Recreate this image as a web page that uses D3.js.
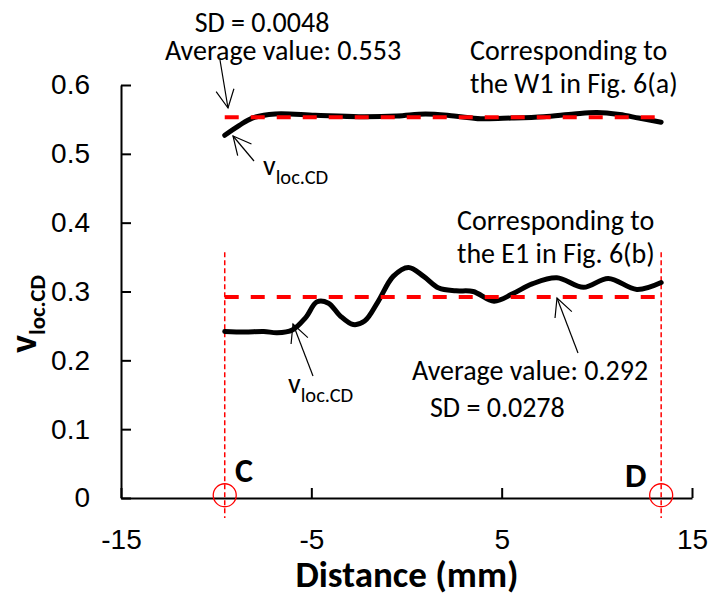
<!DOCTYPE html>
<html lang="en">
<head>
  <meta charset="UTF-8">
  <title>v_loc.CD along C-D</title>
  <script src="https://d3js.org/d3.v7.min.js"></script>
  <style>
    body { margin: 0; background: #fff; }
    svg { display: block; font-family: Carlito, Calibri, Lato, sans-serif; }
    .axis path, .axis line { stroke: #000; stroke-width: 2; }
    .axis text { font-size: 28px; fill: #000; }
  </style>
</head>
<body>
  <svg width="709" height="599"></svg>

  <script>
    // Upper curve (W1, Fig. 6(a)) : [distance mm, v_loc.CD]
    const upperCurve = [
      [-9.55, 0.527], [-8.8, 0.541], [-8.1, 0.552], [-6.9, 0.558], [-4.8, 0.556],
      [-2.5, 0.554], [-0.5, 0.555], [1.0, 0.558], [2.5, 0.555], [3.9, 0.551],
      [5.5, 0.552], [7.2, 0.554], [8.8, 0.558], [10.0, 0.560], [11.2, 0.557],
      [12.2, 0.552], [13.38, 0.546]
    ];
    // Lower curve (E1, Fig. 6(b))
    const lowerCurve = [
      [-9.55, 0.242], [-8.5, 0.241], [-7.5, 0.242], [-6.8, 0.240], [-6.0, 0.244],
      [-5.3, 0.262], [-4.7, 0.285], [-4.1, 0.283], [-3.5, 0.265], [-2.8, 0.252],
      [-2.2, 0.257], [-1.5, 0.285], [-0.7, 0.322], [0.1, 0.335], [0.9, 0.322],
      [1.7, 0.305], [2.6, 0.301], [3.5, 0.300], [4.6, 0.286], [5.6, 0.297],
      [6.6, 0.311], [7.9, 0.320], [9.3, 0.306], [10.6, 0.319], [12.1, 0.303],
      [13.38, 0.313]
    ];
    const averages = [0.553, 0.292];
    const pointC = -9.55, pointD = 13.38;
    const xTicks = [-15, -5, 5, 15];
    const yTicks = [0, 0.1, 0.2, 0.3, 0.4, 0.5, 0.6];

    const svg = d3.select("svg");
    const x = d3.scaleLinear().domain([-15, 15]).range([121, 692]);
    const y = d3.scaleLinear().domain([0, 0.6]).range([498, 85]);

    // open arrow head
    svg.append("defs").append("marker")
      .attr("id", "arrow")
      .attr("viewBox", "-20 -10 22 20")
      .attr("refX", 0).attr("refY", 0)
      .attr("markerWidth", 22).attr("markerHeight", 20)
      .attr("markerUnits", "userSpaceOnUse")
      .attr("orient", "auto")
      .append("path")
      .attr("d", "M-18,-9L0,0L-18,9")
      .attr("fill", "none").attr("stroke", "#000").attr("stroke-width", 1.2);

    // axes
    svg.append("g").attr("class", "axis")
      .attr("transform", `translate(0,${y(0)})`)
      .call(d3.axisBottom(x).tickValues(xTicks).tickSizeInner(-10).tickSizeOuter(0).tickPadding(31).tickFormat(d => String(d)));
    svg.append("g").attr("class", "axis")
      .attr("transform", `translate(${x(-15)},0)`)
      .call(d3.axisLeft(y).tickValues(yTicks).tickSizeInner(-10).tickSizeOuter(0).tickPadding(31).tickFormat(d => d === 0 ? "0" : d3.format(".1f")(d)));

    // C / D markers
    [pointC, pointD].forEach(d => {
      svg.append("line")
        .attr("x1", x(d)).attr("x2", x(d))
        .attr("y1", y(0.357)).attr("y2", y(-0.029))
        .attr("stroke", "red").attr("stroke-width", 1.5).attr("stroke-dasharray", "5,3");
      svg.append("circle")
        .attr("cx", x(d)).attr("cy", y(0.004)).attr("r", 11.5)
        .attr("fill", "none").attr("stroke", "red").attr("stroke-width", 1.3);
    });

    const line = d3.line().x(d => x(d[0])).y(d => y(d[1])).curve(d3.curveCatmullRom);
    [upperCurve, lowerCurve].forEach(c => {
      svg.append("path").attr("d", line(c))
        .attr("fill", "none").attr("stroke", "#000").attr("stroke-width", 5)
        .attr("stroke-linecap", "round");
    });
    averages.forEach(a => {
      svg.append("line")
        .attr("x1", x(pointC)).attr("x2", x(pointD))
        .attr("y1", y(a)).attr("y2", y(a))
        .attr("stroke", "red").attr("stroke-width", 4).attr("stroke-dasharray", "14,12");
    });

    // axis titles
    svg.append("text").attr("x", 407).attr("y", 587)
      .attr("text-anchor", "middle").attr("font-size", 37).attr("font-weight", "bold")
      .text("Distance (mm)");
    const yl = svg.append("text").attr("transform", "translate(36,353) rotate(-90)")
      .attr("font-weight", "bold");
    yl.append("tspan").attr("font-size", 38).text("v");
    yl.append("tspan").attr("font-size", 23).attr("dy", 9).text("loc.CD");

    svg.append("text").attr("x", 235).attr("y", 482).attr("font-size", 34).attr("font-weight", "bold").text("C");
    svg.append("text").attr("x", 625).attr("y", 487).attr("font-size", 34).attr("font-weight", "bold").text("D");

    // annotations
    const note = (tx, ty, s, anchor) => svg.append("text")
      .attr("x", tx).attr("y", ty).attr("font-size", 28)
      .attr("text-anchor", anchor || "start").text(s);
    note(262, 32, "SD = 0.0048", "middle");
    note(283, 60, "Average value: 0.553", "middle");
    note(470, 60, "Corresponding to");
    note(470, 93, "the W1 in Fig. 6(a)");
    note(457, 230, "Corresponding to");
    note(457, 263, "the E1 in Fig. 6(b)");
    note(412, 380, "Average value: 0.292");
    note(430, 417, "SD = 0.0278");

    const vLabel = (tx, ty) => {
      const t = svg.append("text").attr("x", tx).attr("y", ty);
      t.append("tspan").attr("font-size", 28).text("v");
      t.append("tspan").attr("font-size", 20.5).attr("dy", 9).text("loc.CD");
    };
    vLabel(263, 175);
    vLabel(288, 393);

    const arrows = [
      [220, 60, 228, 108],
      [254, 161, 233, 136],
      [313, 376, 293, 324],
      [578, 353, 557, 298]
    ];
    arrows.forEach(a => {
      svg.append("line")
        .attr("x1", a[0]).attr("y1", a[1]).attr("x2", a[2]).attr("y2", a[3])
        .attr("stroke", "#000").attr("stroke-width", 1.2)
        .attr("marker-end", "url(#arrow)");
    });
  </script>
</body>
</html>
